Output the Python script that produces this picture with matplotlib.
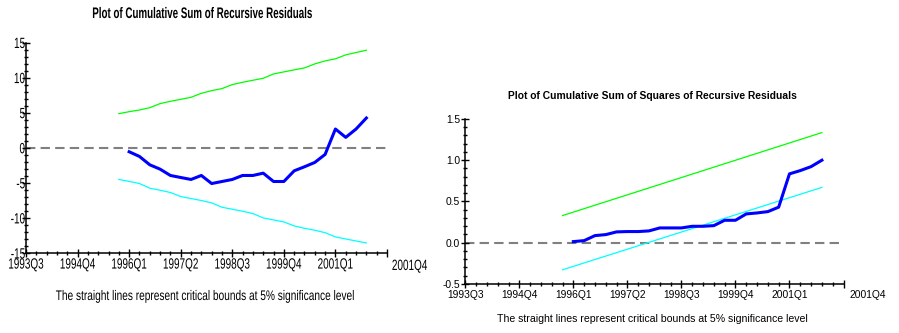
import matplotlib
matplotlib.use('Agg')
import matplotlib.pyplot as plt
from matplotlib.ticker import MultipleLocator
from matplotlib.patheffects import AbstractPathEffect
from matplotlib.transforms import Affine2D, Bbox
from matplotlib.text import Text

# quarter index: 0 = 1993Q3, one step per quarter
tick_labels = ['1993Q3', '1994Q4', '1996Q1', '1997Q2', '1998Q3', '1999Q4', '2001Q1']
end_label = '2001Q4'

cusum_x = list(range(10, 34))
cusum = [-0.57, -1.24, -2.43, -3.05, -3.95, -4.24, -4.52, -3.95, -5.10, -4.81,
         -4.52, -3.95, -3.95, -3.62, -4.81, -4.81, -3.29, -2.71, -2.09, -0.95,
         2.67, 1.48, 2.67, 4.24]

bound_x = list(range(9, 34))
cusum_upper = [4.86, 5.14, 5.38, 5.71, 6.29, 6.62, 6.90, 7.19, 7.76, 8.14,
               8.43, 9.00, 9.33, 9.62, 9.90, 10.52, 10.81, 11.10, 11.38, 11.95,
               12.38, 12.67, 13.24, 13.57, 13.90]
cusum_lower = [-4.52, -4.80, -5.10, -5.76, -6.05, -6.38, -6.95, -7.24, -7.52, -7.86,
               -8.48, -8.76, -9.05, -9.38, -10.00, -10.29, -10.57, -11.14, -11.48, -11.76,
               -12.10, -12.71, -13.00, -13.29, -13.57]

cusumsq = [0.012, 0.024, 0.085, 0.097, 0.130, 0.134, 0.134, 0.142, 0.178, 0.178,
           0.178, 0.198, 0.198, 0.206, 0.271, 0.271, 0.348, 0.360, 0.376, 0.430,
           0.834, 0.874, 0.922, 1.000]
sq_bound_x = [9, 33]
sq_upper = [0.328, 1.335]
sq_lower = [-0.330, 0.670]

font = ['Liberation Sans', 'DejaVu Sans']
caption = 'The straight lines represent critical bounds at 5% significance level'


class Squeeze(AbstractPathEffect):
    """Draw glyphs horizontally compressed, keeping one edge/centre fixed."""

    def __init__(self, sx, anchor='center'):
        super().__init__()
        self.sx = sx
        self.anchor = anchor

    def draw_path(self, renderer, gc, tpath, affine, rgbFace=None):
        if len(tpath.vertices):
            ext = tpath.get_extents()
            a = {'left': ext.x0, 'right': ext.x1}.get(self.anchor, (ext.x0 + ext.x1) / 2)
            affine = Affine2D().translate(-a, 0).scale(self.sx, 1).translate(a, 0) + affine
        renderer.draw_path(gc, tpath, affine, rgbFace)


class NarrowText(Text):
    """Centred text drawn condensed; its extent shrinks to match."""

    def __init__(self, *args, sx=1.0, **kwargs):
        self.sx = sx
        super().__init__(*args, **kwargs)
        self.set_path_effects([Squeeze(sx)])

    def get_window_extent(self, renderer=None, dpi=None):
        bb = super().get_window_extent(renderer, dpi)
        cx = (bb.x0 + bb.x1) / 2
        half = bb.width * self.sx / 2
        return Bbox([[cx - half, bb.y0], [cx + half, bb.y1]])


W, H = 899, 333
fig = plt.figure(figsize=(W / 100, H / 100), dpi=100)


def make_axes(x0, x1, y0, y1):
    # pixel box -> figure fraction
    return fig.add_axes([x0 / W, 1 - y1 / H, (x1 - x0) / W, (y1 - y0) / H])


def narrow_text(x, y, s, sx, **kwargs):
    t = NarrowText(x / W, 1 - y / H, s, sx=sx, transform=fig.transFigure,
                   family=font, ha='center', va='center', **kwargs)
    fig.add_artist(t)
    return t


def style(ax, ylim, major, minor, size, xpad, ypad, fmt, end_y, sx=None):
    ax.set_xlim(0, 35)
    ax.set_ylim(*ylim)
    ax.spines['top'].set_visible(False)
    ax.spines['right'].set_visible(False)
    for s in ['left', 'bottom']:
        ax.spines[s].set_linewidth(1.1)
    ax.set_xticks(range(0, 36, 5), labels=tick_labels + [''])
    ax.xaxis.set_minor_locator(MultipleLocator(1))
    ax.yaxis.set_major_locator(MultipleLocator(major))
    ax.yaxis.set_minor_locator(MultipleLocator(minor))
    ax.set_yticks(ax.get_yticks(), labels=[fmt.format(v) for v in ax.get_yticks()])
    ax.set_ylim(*ylim)
    ax.tick_params(which='major', direction='inout', length=6, width=1.0)
    ax.tick_params(which='minor', direction='inout', length=3.5, width=1.0)
    ax.tick_params(axis='x', which='major', pad=xpad)
    ax.tick_params(axis='y', which='major', pad=ypad)
    for t in ax.get_xticklabels() + ax.get_yticklabels():
        t.set_family(font)
        t.set_fontsize(size)
    if sx:
        for t in ax.get_xticklabels():
            t.set_path_effects([Squeeze(sx)])
        for t in ax.get_yticklabels():
            t.set_path_effects([Squeeze(sx, 'right')])
        end = NarrowText(37.2, end_y, end_label, sx=sx, transform=ax.transData,
                         family=font, fontsize=size, ha='center', va='top',
                         clip_on=False)
        ax.add_artist(end)
    else:
        ax.text(37.2, end_y, end_label, family=font, fontsize=size,
                ha='center', va='top', clip_on=False)
    ax.axhline(0, color='#808080', lw=1.5, ls=(0, (4.5, 2.5)), zorder=1)


# CUSUM panel
ax1 = make_axes(26, 387, 42.5, 253)
style(ax1, (-15, 15), 5, 1, 10.7, 0.3, -2.5, '{:g}', -15.85, sx=0.67)
ax1.plot(bound_x, cusum_upper, color='#00ff00', lw=0.9)
ax1.plot(bound_x, cusum_lower, color='#00ffff', lw=0.9)
ax1.plot(cusum_x, cusum, color='#0000ff', lw=2.2)
narrow_text(203, 14, 'Plot of Cumulative Sum of Recursive Residuals', 0.64,
            fontsize=11, fontweight='bold')
narrow_text(206, 296, caption, 0.73, fontsize=10)

# CUSUM of squares panel
ax2 = make_axes(465.3, 843.5, 119, 283.8)
style(ax2, (-0.5, 1.5), 0.5, 0.1, 7.4, 1.5, 0.8, '{:.1f}', -0.57)
ax2.plot(sq_bound_x, sq_upper, color='#00ff00', lw=0.9)
ax2.plot(sq_bound_x, sq_lower, color='#00ffff', lw=0.9)
ax2.plot(cusum_x, cusumsq, color='#0000ff', lw=2.2)
fig.text(652 / W, 1 - 96 / H,
         'Plot of Cumulative Sum of Squares of Recursive Residuals',
         family=font, fontsize=7.4, fontweight='bold', ha='center', va='center')
fig.text(652 / W, 1 - 319 / H, caption,
         family=font, fontsize=7.6, ha='center', va='center')

fig.savefig('out.png', dpi=100)
